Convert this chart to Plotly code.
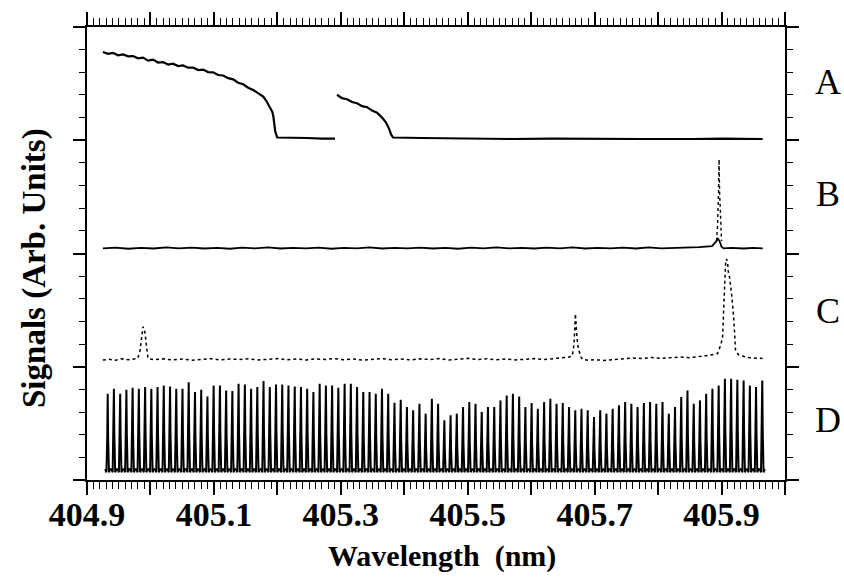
import plotly.graph_objects as go

# ---------------- data (panel-local signal units, 0..1 per panel) ----------------
panel_offsets = {"A": 3.0, "B": 2.0, "C": 1.0, "D": 0.0}
panel_labels = ["A", "B", "C", "D"]

# Panel A: two decaying segments (None = gap)
a_x = [404.9252, 404.9331, 404.9410, 404.9489, 404.9568, 404.9647, 404.9726, 404.9804,
       404.9883, 404.9962, 405.0041, 405.0120, 405.0199, 405.0278, 405.0357, 405.0436,
       405.0514, 405.0593, 405.0672, 405.0751, 405.0830, 405.0909, 405.0988, 405.1067,
       405.1146, 405.1224, 405.1303, 405.1382, 405.1461, 405.1540, 405.1619, 405.1698,
       405.1777, 405.1825, 405.1856, 405.1888, 405.1919, 405.1935, 405.1951, 405.1967,
       405.1998, 405.2230, 405.2467, 405.2704, 405.2909,
       None,
       405.2940, 405.3019, 405.3098, 405.3177, 405.3256, 405.3335, 405.3414, 405.3492,
       405.3571, 405.3650, 405.3713, 405.3760, 405.3792, 405.3823, 405.4281, 405.4912,
       405.5700, 405.6331, 405.6962, 405.7751, 405.8539, 405.9012, 405.9647]
a_y = [0.780, 0.763, 0.772, 0.750, 0.758, 0.741, 0.743, 0.724,
       0.730, 0.703, 0.712, 0.686, 0.690, 0.668, 0.676, 0.655,
       0.660, 0.641, 0.642, 0.620, 0.624, 0.602, 0.600, 0.576,
       0.572, 0.548, 0.538, 0.508, 0.494, 0.464, 0.444, 0.412,
       0.385, 0.349, 0.314, 0.288, 0.253, 0.218, 0.148, 0.077,
       0.024, 0.024, 0.020, 0.015, 0.015,
       None,
       0.402, 0.372, 0.362, 0.337, 0.327, 0.301, 0.292, 0.262,
       0.243, 0.200, 0.156, 0.103, 0.051, 0.024, 0.020, 0.015,
       0.011, 0.015, 0.011, 0.011, 0.011, 0.015, 0.011]

# Panel B: flat wavy baseline with one narrow line near 405.895 nm
b_x = [404.925, 404.945, 404.965, 404.985, 405.005, 405.025, 405.045, 405.065, 405.085,
       405.105, 405.125, 405.145, 405.165, 405.185, 405.205, 405.225, 405.245, 405.265,
       405.285, 405.305, 405.325, 405.345, 405.365, 405.385, 405.405, 405.425, 405.445,
       405.465, 405.485, 405.505, 405.525, 405.545, 405.565, 405.585, 405.605, 405.625,
       405.645, 405.665, 405.685, 405.705, 405.725, 405.745, 405.765, 405.785, 405.805,
       405.825, 405.845, 405.865, 405.885, 405.8921, 405.8937, 405.8969, 405.9000,
       405.9032, 405.915, 405.935, 405.950, 405.965]
b_y = [0.046, 0.052, 0.042, 0.050, 0.044, 0.054, 0.046, 0.052, 0.044,
       0.050, 0.042, 0.052, 0.046, 0.054, 0.044, 0.050, 0.046, 0.052,
       0.042, 0.050, 0.046, 0.054, 0.044, 0.050, 0.046, 0.052, 0.044,
       0.050, 0.042, 0.052, 0.046, 0.054, 0.046, 0.050, 0.044, 0.052,
       0.046, 0.054, 0.044, 0.050, 0.046, 0.052, 0.044, 0.054, 0.046,
       0.050, 0.048, 0.056, 0.066, 0.110, 0.136, 0.110, 0.060,
       0.046, 0.050, 0.044, 0.050, 0.046]
b_peak_x = [405.8921, 405.8937, 405.8953, 405.8961, 405.8969, 405.8985, 405.9000]
b_peak_y = [0.110, 0.242, 0.549, 0.831, 0.549, 0.242, 0.110]

# Panel C: noisy baseline with three lines
c_x = [404.925, 404.935, 404.945, 404.955, 404.965, 404.975, 404.980, 404.9836, 404.9852,
       404.9868, 404.9883, 404.9899, 404.9915, 404.9931, 404.9946, 404.9962, 405.005,
       405.020, 405.035, 405.050, 405.065, 405.080, 405.095, 405.110, 405.125, 405.140,
       405.155, 405.170, 405.185, 405.200, 405.215, 405.230, 405.245, 405.260, 405.275,
       405.290, 405.305, 405.320, 405.335, 405.350, 405.365, 405.380, 405.395, 405.410,
       405.425, 405.440, 405.455, 405.470, 405.485, 405.500, 405.515, 405.530, 405.545,
       405.560, 405.575, 405.590, 405.605, 405.620, 405.635, 405.650, 405.660, 405.665,
       405.6675, 405.6697, 405.672, 405.6744, 405.678, 405.6808, 405.690, 405.700,
       405.715, 405.730, 405.745, 405.760, 405.775, 405.790, 405.805, 405.820, 405.835,
       405.850, 405.865, 405.878, 405.8937, 405.8984, 405.9016, 405.9032, 405.9047,
       405.9063, 405.9079, 405.9095, 405.9110, 405.9126, 405.9158, 405.9174, 405.9189,
       405.9205, 405.9221, 405.9268, 405.9410, 405.9647]
c_y = [0.060, 0.066, 0.058, 0.070, 0.062, 0.068, 0.073, 0.143, 0.213,
       0.301, 0.354, 0.330, 0.301, 0.213, 0.116, 0.073, 0.062,
       0.070, 0.060, 0.068, 0.058, 0.066, 0.072, 0.060, 0.068, 0.064,
       0.070, 0.060, 0.066, 0.072, 0.062, 0.068, 0.060, 0.070, 0.064,
       0.072, 0.062, 0.068, 0.058, 0.066, 0.072, 0.062, 0.068, 0.060,
       0.070, 0.064, 0.072, 0.060, 0.066, 0.074, 0.064, 0.070, 0.062,
       0.068, 0.060, 0.066, 0.072, 0.064, 0.070, 0.078, 0.085, 0.099,
       0.200, 0.468, 0.260, 0.160, 0.090, 0.064, 0.058, 0.062,
       0.056, 0.064, 0.070, 0.078, 0.072, 0.082, 0.074, 0.078, 0.086,
       0.080, 0.088, 0.099, 0.116, 0.187, 0.257, 0.451, 0.740,
       0.908, 0.952, 0.917, 0.820, 0.790, 0.644, 0.556, 0.451,
       0.301, 0.143, 0.105, 0.081, 0.073]

# Panel D: etalon fringe comb (peak positions, peak heights, baseline level)
d_peak_x = [404.9326, 404.9424, 404.9523, 404.9621, 404.9719, 404.9817, 404.9916, 405.0014,
            405.0112, 405.0210, 405.0309, 405.0407, 405.0505, 405.0603, 405.0702, 405.0800,
            405.0898, 405.0996, 405.1095, 405.1193, 405.1291, 405.1389, 405.1488, 405.1586,
            405.1684, 405.1782, 405.1881, 405.1979, 405.2077, 405.2175, 405.2274, 405.2372,
            405.2470, 405.2568, 405.2667, 405.2765, 405.2863, 405.2961, 405.3060, 405.3158,
            405.3256, 405.3354, 405.3453, 405.3551, 405.3649, 405.3747, 405.3846, 405.3944,
            405.4042, 405.4140, 405.4239, 405.4337, 405.4435, 405.4533, 405.4632, 405.4730,
            405.4828, 405.4926, 405.5025, 405.5123, 405.5221, 405.5319, 405.5418, 405.5516,
            405.5614, 405.5712, 405.5811, 405.5909, 405.6007, 405.6105, 405.6204, 405.6302,
            405.6400, 405.6498, 405.6597, 405.6695, 405.6793, 405.6891, 405.6990, 405.7088,
            405.7186, 405.7284, 405.7383, 405.7481, 405.7579, 405.7677, 405.7776, 405.7874,
            405.7972, 405.8070, 405.8169, 405.8267, 405.8365, 405.8463, 405.8562, 405.8660,
            405.8758, 405.8856, 405.8955, 405.9053, 405.9151, 405.9249, 405.9348, 405.9446,
            405.9544, 405.9642]
d_peak_h = [0.762, 0.806, 0.762, 0.797, 0.815, 0.806, 0.821, 0.806, 0.821, 0.835,
            0.826, 0.806, 0.806, 0.864, 0.777, 0.797, 0.738, 0.835, 0.835, 0.791,
            0.785, 0.850, 0.844, 0.806, 0.821, 0.873, 0.821, 0.844, 0.844, 0.835,
            0.826, 0.821, 0.806, 0.777, 0.850, 0.835, 0.835, 0.815, 0.850, 0.850,
            0.821, 0.777, 0.777, 0.762, 0.806, 0.762, 0.683, 0.709, 0.645, 0.615,
            0.674, 0.586, 0.718, 0.674, 0.527, 0.571, 0.586, 0.645, 0.689, 0.674,
            0.601, 0.645, 0.645, 0.703, 0.747, 0.762, 0.738, 0.645, 0.680, 0.630,
            0.689, 0.718, 0.674, 0.680, 0.645, 0.615, 0.630, 0.615, 0.557, 0.615,
            0.586, 0.630, 0.659, 0.689, 0.674, 0.645, 0.680, 0.689, 0.674, 0.689,
            0.586, 0.645, 0.733, 0.791, 0.674, 0.703, 0.762, 0.806, 0.835, 0.894,
            0.894, 0.885, 0.879, 0.835, 0.821, 0.879]
d_base = 0.095
d_trough = 0.068

# x axis ticks
x_tick_vals = [404.9, 405.0, 405.1, 405.2, 405.3, 405.4, 405.5, 405.6, 405.7, 405.8, 405.9, 406.0]
x_tick_text = ["404.9", "", "405.1", "", "405.3", "", "405.5", "", "405.7", "", "405.9", ""]

# ---------------- build figure ----------------
def shifted(vals, off):
    return [None if v is None else v + off for v in vals]

fig = go.Figure()
fig.add_trace(go.Scatter(x=a_x, y=shifted(a_y, panel_offsets["A"]), mode="lines",
                         line=dict(color="black", width=2.2), connectgaps=False,
                         hoverinfo="skip", showlegend=False))
fig.add_trace(go.Scatter(x=b_x, y=shifted(b_y, panel_offsets["B"]), mode="lines",
                         line=dict(color="black", width=1.8), hoverinfo="skip", showlegend=False))
fig.add_trace(go.Scatter(x=b_peak_x, y=shifted(b_peak_y, panel_offsets["B"]), mode="lines",
                         line=dict(color="black", width=1.4, dash="dot"),
                         hoverinfo="skip", showlegend=False))
fig.add_trace(go.Scatter(x=c_x, y=shifted(c_y, panel_offsets["C"]), mode="lines",
                         line=dict(color="black", width=1.5, dash="dot"),
                         hoverinfo="skip", showlegend=False))

# comb: each fringe drawn as a narrow spike from the listed peak position/height
half_w = [0.0040, 0.0020, 0.0007]
dx, dy = [], []
for p, h in zip(d_peak_x, d_peak_h):
    dx += [p - half_w[0], p - half_w[1], p - half_w[2], p, p + half_w[2], p + half_w[1], p + half_w[0]]
    dy += [d_base, d_trough, 0.5 * h, h, 0.5 * h, d_trough, d_base]
fig.add_trace(go.Scatter(x=dx, y=shifted(dy, panel_offsets["D"]), mode="lines",
                         line=dict(color="black", width=2), hoverinfo="skip", showlegend=False))

serif = "Liberation Serif"

fig.update_layout(
    width=844, height=577,
    margin=dict(l=87, r=59, t=25, b=97),
    paper_bgcolor="white", plot_bgcolor="white",
    showlegend=False,
    xaxis=dict(range=[404.9, 406.0], showgrid=False, zeroline=False,
               showline=True, linecolor="black", linewidth=2, mirror="allticks",
               ticks="outside", ticklen=13, tickwidth=1.5, tickcolor="black",
               tickvals=x_tick_vals, ticktext=x_tick_text, ticklabelstandoff=-10,
               tickfont=dict(family=serif, size=34, color="black", weight="bold"),
               minor=dict(dtick=0.01, ticks="outside", ticklen=7, tickwidth=1, tickcolor="black")),
    yaxis=dict(range=[0, 4], showgrid=False, zeroline=False, showticklabels=False,
               showline=True, linecolor="black", linewidth=2, mirror="allticks",
               ticks="outside", ticklen=12, tickwidth=1.5, tickcolor="black",
               tickvals=[0, 1, 2, 3, 4],
               minor=dict(dtick=0.2, ticks="outside", ticklen=6, tickwidth=1, tickcolor="black")),
)

label_y = [0.879, 0.631, 0.374, 0.132]
for lab, yy in zip(panel_labels, label_y):
    fig.add_annotation(text=lab, xref="paper", yref="paper", x=1.0616, y=yy,
                       xanchor="center", yanchor="middle", showarrow=False,
                       font=dict(family=serif, size=36, color="black"))

fig.add_annotation(text="Signals (Arb. Units)", xref="paper", yref="paper",
                   x=-0.0745, y=0.468, xanchor="center", yanchor="middle",
                   textangle=-90, showarrow=False,
                   font=dict(family=serif, size=33, color="black", weight="bold"))
fig.add_annotation(text="Wavelength\u00a0\u00a0(nm)", xref="paper", yref="paper",
                   x=0.5086, y=-0.167, xanchor="center", yanchor="middle",
                   showarrow=False,
                   font=dict(family=serif, size=30, color="black", weight="bold"))

fig.write_html("out.html")
